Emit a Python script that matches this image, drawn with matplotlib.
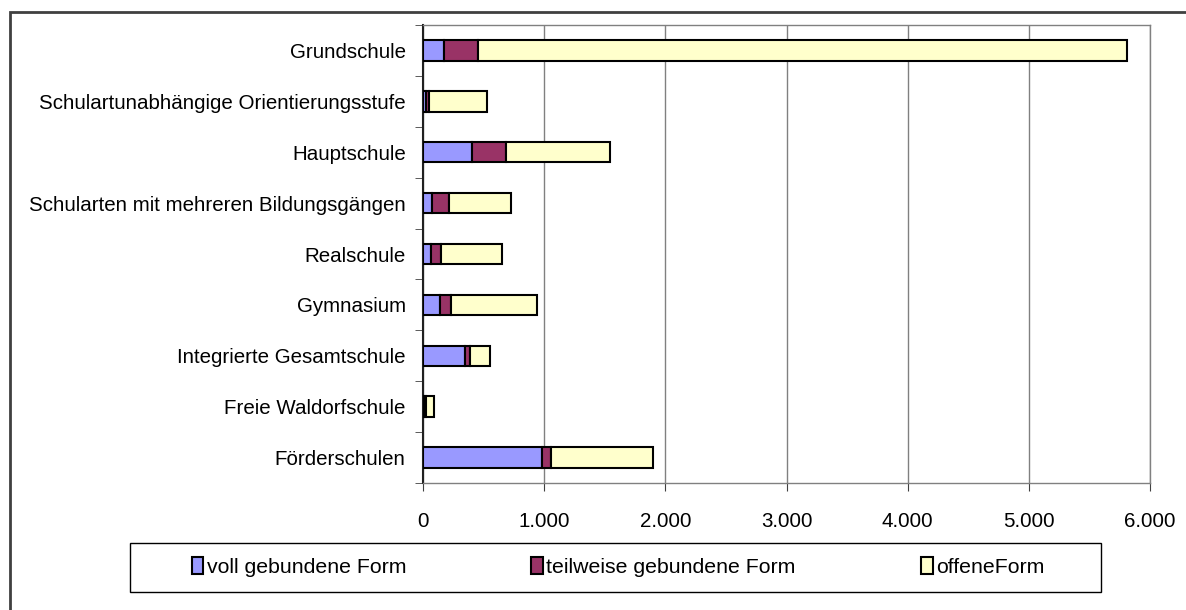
import matplotlib.pyplot as plt
import numpy as np
from matplotlib.patches import Rectangle

plt.rcParams['font.family'] = ['Liberation Sans', 'DejaVu Sans']

# Schularten (von oben nach unten)
schularten = ['Grundschule', 'Schulartunabhängige Orientierungsstufe', 'Hauptschule',
              'Schularten mit mehreren Bildungsgängen', 'Realschule', 'Gymnasium',
              'Integrierte Gesamtschule', 'Freie Waldorfschule', 'Förderschulen']
voll = [170, 25, 408, 71, 66, 140, 344, 10, 981]
teilweise = [287, 25, 275, 141, 80, 89, 44, 15, 77]
offen = [5353, 480, 857, 515, 504, 713, 163, 63, 840]
serien = ['voll gebundene Form', 'teilweise gebundene Form', 'offeneForm']
farben = ['#9999FF', '#993366', '#FFFFCC']
x_ticks = [0, 1000, 2000, 3000, 4000, 5000, 6000]
x_labels = ['0', '1.000', '2.000', '3.000', '4.000', '5.000', '6.000']

fs = 14.8

fig = plt.figure(figsize=(11.86, 6.10), dpi=100)
ax = fig.add_axes([423 / 1186, 1 - 483 / 610, 727 / 1186, 458 / 610])

# äußerer Rahmen
fig.patches.append(Rectangle((10 / 1186, -0.05), 1.2, 1 - 12 / 610 + 0.05,
                             transform=fig.transFigure, fill=False,
                             edgecolor='#404040', linewidth=2))
# Legendenrahmen
fig.patches.append(Rectangle((130 / 1186, 1 - 592 / 610), 971 / 1186, 49 / 610,
                             transform=fig.transFigure, fill=False,
                             edgecolor='black', linewidth=1))

pos = np.arange(len(schularten))
links = np.zeros(len(schularten))
for werte, name, farbe in zip([voll, teilweise, offen], serien, farben):
    ax.barh(pos, werte, left=links, height=0.4, color=farbe, edgecolor='black',
            linewidth=1.5, label=name, zorder=3)
    links += np.array(werte)

ax.set_xlim(0, 6000)
ax.set_ylim(len(schularten) - 0.5, -0.5)
ax.set_xticks(x_ticks)
ax.set_xticklabels(x_labels, fontsize=fs)
ax.set_yticks(pos)
ax.set_yticklabels(schularten, fontsize=fs)
ax.set_yticks(np.arange(len(schularten) + 1) - 0.5, minor=True)
ax.tick_params(axis='y', which='major', length=0, pad=12.5)
ax.tick_params(axis='y', which='minor', length=6, color='#404040')
ax.tick_params(axis='x', which='major', length=6, color='#404040', pad=15)
ax.xaxis.grid(True, color='#808080', linewidth=1, zorder=0)

for s in ['top', 'right', 'bottom']:
    ax.spines[s].set_color('#808080')
    ax.spines[s].set_linewidth(1)
ax.spines['left'].set_color('#202020')
ax.spines['left'].set_linewidth(1.5)

fig.legend(loc='center', bbox_to_anchor=(618 / 1186, 1 - 567 / 610),
           ncol=3, fontsize=fs + 0.5, frameon=False,
           handlelength=0.55, handleheight=0.8, handletextpad=0.15,
           columnspacing=5.9)

fig.savefig('out.png', dpi=100)
